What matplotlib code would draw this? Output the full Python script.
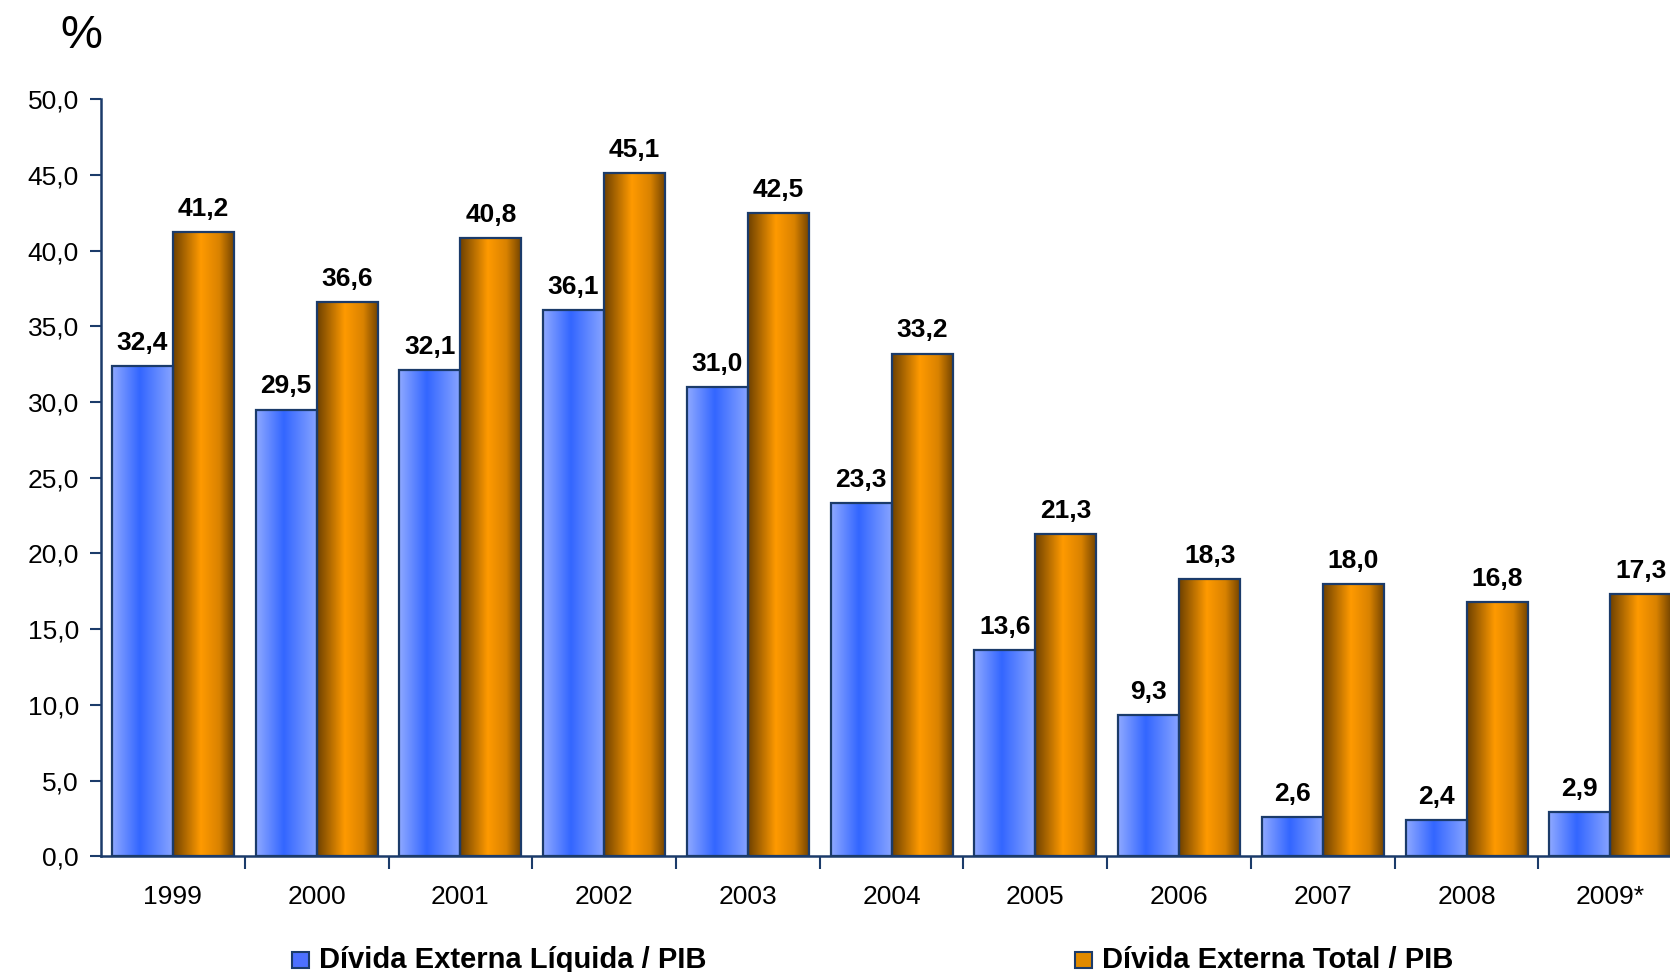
import numpy as np
import matplotlib
matplotlib.use('Agg')
import matplotlib.pyplot as plt
from matplotlib.colors import LinearSegmentedColormap
from matplotlib.patches import Rectangle

plt.rcParams['font.family'] = ['Liberation Sans', 'DejaVu Sans']

years = ['1999', '2000', '2001', '2002', '2003', '2004', '2005', '2006',
         '2007', '2008', '2009*']
liquida = [32.4, 29.5, 32.1, 36.1, 31.0, 23.3, 13.6, 9.3, 2.6, 2.4, 2.9]
total = [41.2, 36.6, 40.8, 45.1, 42.5, 33.2, 21.3, 18.3, 18.0, 16.8, 17.3]
series_names = ['Dívida Externa Líquida / PIB', 'Dívida Externa Total / PIB']

navy = '#1b3b6a'
blue_cmap = LinearSegmentedColormap.from_list(
    'b', [(0, '#8fa9ff'), (0.45, '#3366ff'), (1, '#8aa6ff')])
orange_cmap = LinearSegmentedColormap.from_list(
    'o', [(0, '#6e4100'), (0.45, '#ff9a00'), (0.75, '#d98200'), (1, '#6e4100')])

fig = plt.figure(figsize=(16.7, 9.72), dpi=100)
ax = fig.add_axes([0.0605, 0.119, 0.9395, 0.779])

x = np.arange(len(years))
width = 0.425
grad = np.linspace(0, 1, 256).reshape(1, -1)


def gradient_bars(xpos, vals, cmap):
    bars = ax.bar(xpos, vals, width=width, facecolor='none',
                  edgecolor=navy, linewidth=1.6, zorder=3)
    for b in bars:
        x0, w, h = b.get_x(), b.get_width(), b.get_height()
        im = ax.imshow(grad, extent=[x0, x0 + w, 0, h], aspect='auto',
                       cmap=cmap, zorder=2, interpolation='bicubic')
        im.set_clip_path(b)
    return bars


b1 = gradient_bars(x - width / 2, liquida, blue_cmap)
b2 = gradient_bars(x + width / 2, total, orange_cmap)

for bars, vals in [(b1, liquida), (b2, total)]:
    for b, v in zip(bars, vals):
        ax.annotate(f'{v:.1f}'.replace('.', ','),
                    (b.get_x() + b.get_width() / 2, v),
                    xytext=(0, 8), textcoords='offset points',
                    ha='center', va='bottom', fontsize=19,
                    fontweight='bold', clip_on=False, zorder=5)

ax.set_xlim(-0.5, 10.415)
ax.set_ylim(0, 50)
ax.set_yticks(np.arange(0, 50.1, 5))
ax.set_yticklabels([f'{t:.1f}'.replace('.', ',') for t in np.arange(0, 50.1, 5)],
                   fontsize=19)
ax.set_xticks(x)
ax.set_xticklabels(years, fontsize=19)
ax.set_xticks(np.arange(0.5, len(years) - 0.5), minor=True)
ax.tick_params(axis='x', which='major', length=0, pad=21)
ax.tick_params(axis='x', which='minor', length=9, width=1.5, color=navy,
               direction='out')
ax.tick_params(axis='y', length=8, width=1.5, color=navy, pad=8)

for s in ['top', 'right']:
    ax.spines[s].set_visible(False)
for s in ['left', 'bottom']:
    ax.spines[s].set_color(navy)
    ax.spines[s].set_linewidth(1.8)

fig.text(0.036, 0.963, '%', fontsize=34, ha='left', va='center')

# legend
leg_x = [0.175, 0.644]
leg_cols = ['#4d70ff', '#e08a00']
for lx, name, c in zip(leg_x, series_names, leg_cols):
    fig.patches.append(Rectangle((lx, 0.004), 0.0098, 0.0165, transform=fig.transFigure,
                                 facecolor=c, edgecolor=navy, linewidth=1.5))
    fig.text(lx + 0.016, 0.012, name, fontsize=21, fontweight='bold',
             ha='left', va='center')

fig.savefig('out.png', dpi=100)
